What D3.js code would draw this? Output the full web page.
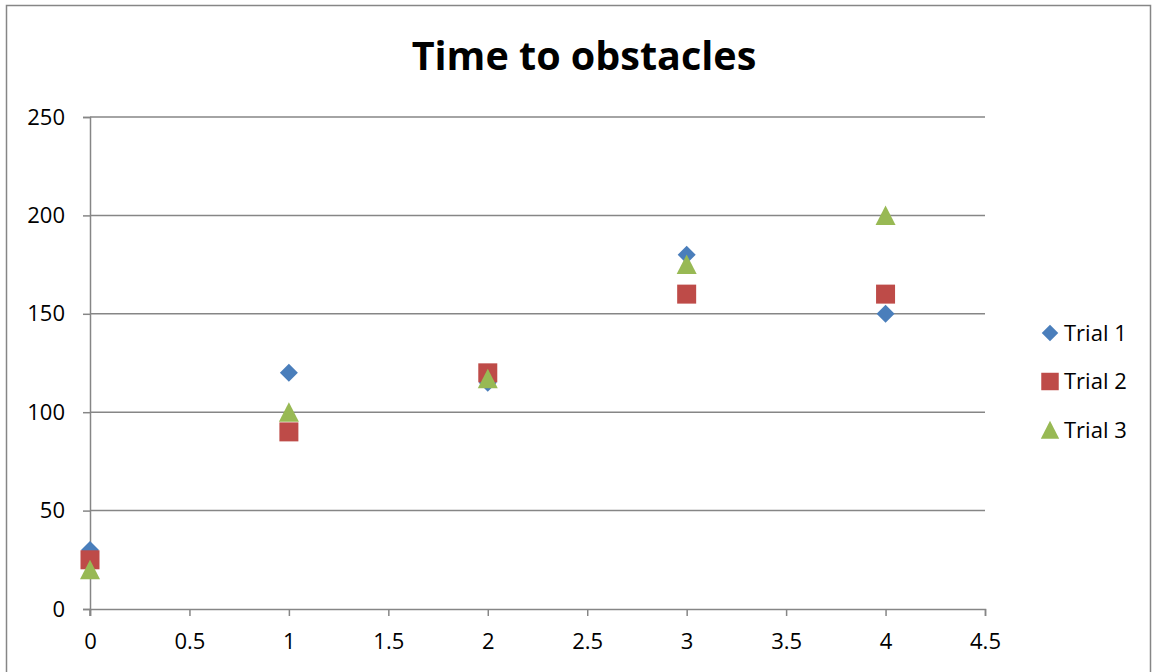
<!DOCTYPE html>
<html><head><meta charset="utf-8">
<script src="https://cdn.jsdelivr.net/npm/d3@7"></script>
<style>body{margin:0;background:#fff}svg{display:block}</style>
</head><body>
<svg id="c" width="1152" height="672"></svg>
<script>
const xValues = [0, 1, 2, 3, 4];
const trial1 = [30, 120, 115, 180, 150];
const trial2 = [25, 90, 120, 160, 160];
const trial3 = [20, 100, 117, 175, 200];
const seriesNames = ["Trial 1", "Trial 2", "Trial 3"];
const xTicks = [0, 0.5, 1, 1.5, 2, 2.5, 3, 3.5, 4, 4.5];
const yTicks = [0, 50, 100, 150, 200, 250];
const title = "Time to obstacles";

const colors = ["#4a7ebb", "#be4b48", "#98b954"];
const series = [trial1, trial2, trial3];

// custom marker shapes (scale factor k)
const markerPath = (i, k) => {
  const p = d3.path();
  if (i === 0) { const r = 9 * k; p.moveTo(0, -r); p.lineTo(r, 0); p.lineTo(0, r); p.lineTo(-r, 0); p.closePath(); }
  else if (i === 1) { const h = 9.5 * k; p.rect(-h, -h, 2 * h, 2 * h); }
  else { const h = 10 * k; p.moveTo(0, -h); p.lineTo(h, h * 0.95); p.lineTo(-h, h * 0.95); p.closePath(); }
  return p.toString();
};

const svg = d3.select("#c");
const font = "'Open Sans', 'Liberation Sans', sans-serif";
svg.append("rect").attr("x", 6.5).attr("y", 5.5).attr("width", 1144).attr("height", 680)
  .attr("fill", "#fff").attr("stroke", "#868686").attr("stroke-width", 1.5);

const L = 90, R = 985, T = 117, B = 609;
const x = d3.scaleLinear().domain([0, 4.5]).range([L, R]);
const y = d3.scaleLinear().domain([0, 250]).range([B, T]);

// gridlines
svg.append("g").selectAll("line").data(yTicks.filter(d => d > 0)).join("line")
  .attr("x1", L).attr("x2", R).attr("y1", d => y(d)).attr("y2", d => y(d))
  .attr("stroke", "#868686").attr("stroke-width", 1.5);

const xAxis = svg.append("g").attr("transform", `translate(0,${B})`)
  .call(d3.axisBottom(x).tickValues(xTicks).tickSize(7).tickPadding(10).tickFormat(d3.format("")));
const yAxis = svg.append("g").attr("transform", `translate(${L},0)`)
  .call(d3.axisLeft(y).tickValues(yTicks).tickSize(7).tickPadding(10));
[xAxis, yAxis].forEach(a => {
  a.select(".domain").attr("stroke", "#868686").attr("stroke-width", 1.5);
  a.selectAll(".tick line").attr("stroke", "#868686").attr("stroke-width", 1.5);
  a.selectAll("text").attr("font-family", font).attr("font-size", 22).attr("fill", "#000");
});
yAxis.selectAll("text").attr("dx", "-8");
xAxis.selectAll("text").attr("dy", "1.05em");
svg.append("line").attr("x1", L).attr("x2", L).attr("y1", B).attr("y2", B + 7)
  .attr("stroke", "#868686").attr("stroke-width", 1.5);

// points
series.forEach((s, i) => {
  svg.append("g").selectAll("path").data(s).join("path")
    .attr("d", markerPath(i, 1))
    .attr("transform", (d, j) => `translate(${x(xValues[j])},${y(d)})`)
    .attr("fill", colors[i]);
});

// title
svg.append("text").attr("x", 584).attr("y", 70).attr("text-anchor", "middle")
  .attr("font-family", font).attr("font-weight", "bold").attr("font-size", 39.5).text(title);

// legend
const lg = svg.append("g");
seriesNames.forEach((n, i) => {
  const yy = 333 + i * 48.5;
  lg.append("path").attr("d", markerPath(i, 0.92))
    .attr("transform", `translate(1050,${yy})`).attr("fill", colors[i]);
  lg.append("text").attr("x", 1064).attr("y", yy).attr("dy", "0.36em")
    .attr("font-family", font).attr("font-size", 22).text(n);
});
</script>
</body></html>
